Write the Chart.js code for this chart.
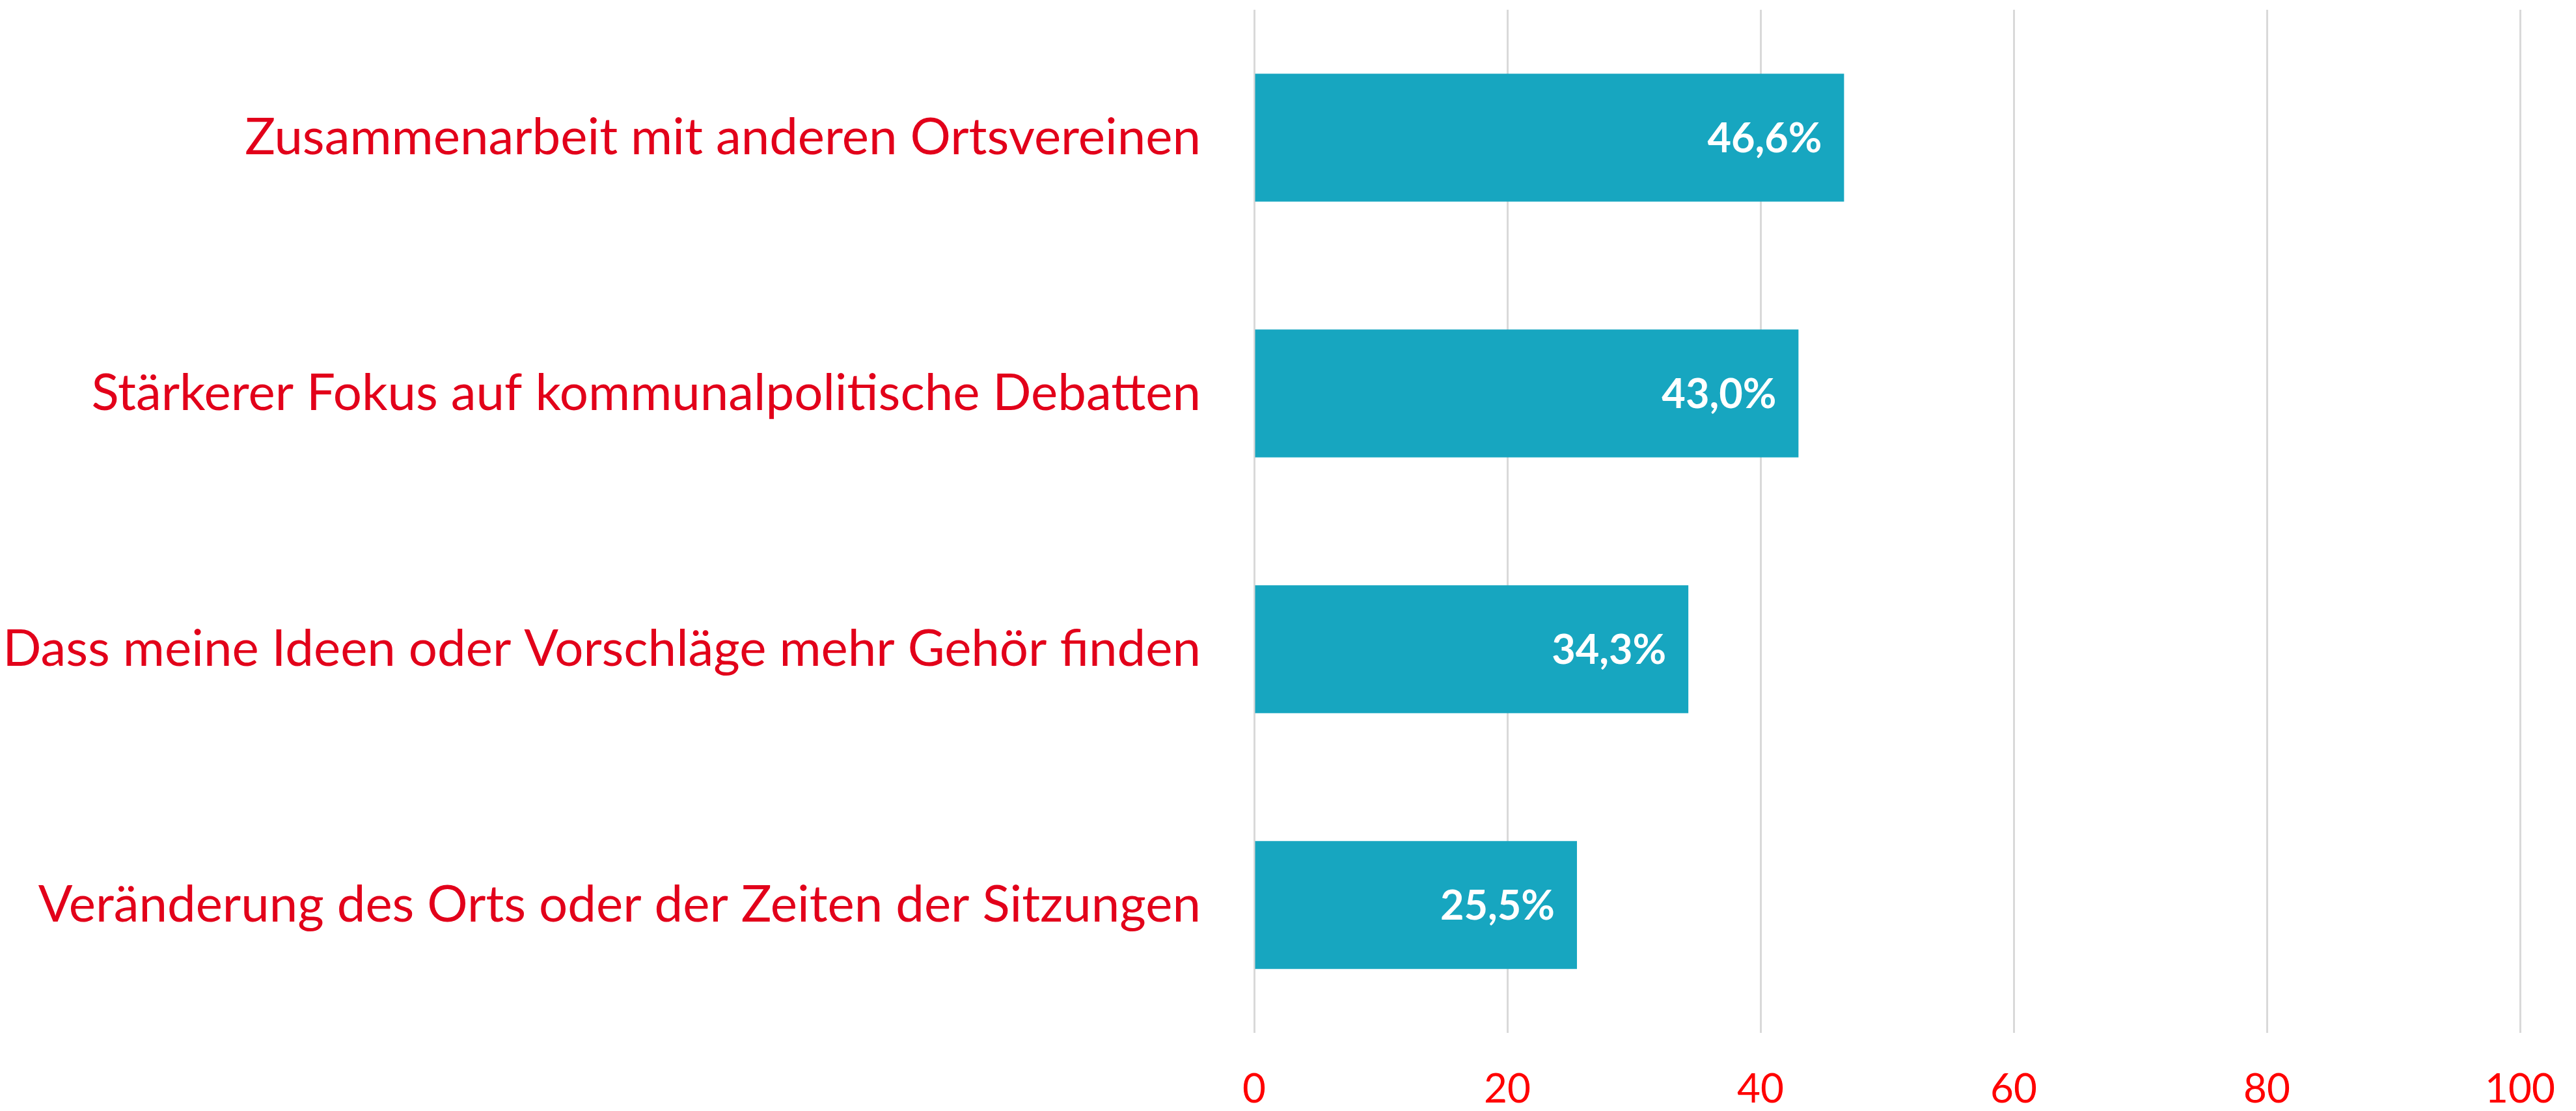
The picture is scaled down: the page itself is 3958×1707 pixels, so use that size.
<!DOCTYPE html>
<html>
<head>
<meta charset="utf-8">
<script src="https://cdn.jsdelivr.net/npm/chart.js@4/dist/chart.umd.min.js"></script>
<style>
  html, body { margin: 0; padding: 0; background: #ffffff; }
  #wrap { width: 3958px; height: 1707px; }
</style>
</head>
<body>
<div id="wrap"><canvas id="c" width="3958" height="1707"></canvas></div>
<script>
const categories = [
  "Zusammenarbeit mit anderen Ortsvereinen",
  "Stärkerer Fokus auf kommunalpolitische Debatten",
  "Dass meine Ideen oder Vorschläge mehr Gehör finden",
  "Veränderung des Orts oder der Zeiten der Sitzungen"
];
const values = [46.6, 43.0, 34.3, 25.5];
const xTicks = [0, 20, 40, 60, 80, 100];

const FONT = "Lato, 'Open Sans', sans-serif";

const valueLabels = {
  id: 'valueLabels',
  afterDatasetsDraw(chart) {
    const ctx = chart.ctx;
    const meta = chart.getDatasetMeta(0);
    ctx.save();
    ctx.fillStyle = '#ffffff';
    ctx.font = "bold 63px " + FONT;
    ctx.textAlign = 'right';
    ctx.textBaseline = 'middle';
    meta.data.forEach((bar, i) => {
      const txt = values[i].toFixed(1).replace('.', ',') + '%';
      ctx.fillText(txt, bar.x - 34, bar.y + 2);
    });
    ctx.restore();
  }
};

new Chart(document.getElementById('c'), {
  type: 'bar',
  data: {
    labels: categories,
    datasets: [{
      data: values,
      backgroundColor: '#17A6C0',
      borderWidth: 0,
      barPercentage: 0.5,
      categoryPercentage: 1.0
    }]
  },
  plugins: [valueLabels],
  options: {
    indexAxis: 'y',
    responsive: false,
    animation: false,
    devicePixelRatio: 1,
    layout: { padding: { top: 15, right: 86, bottom: 0, left: 0 } },
    plugins: { legend: { display: false }, tooltip: { enabled: false } },
    scales: {
      x: {
        min: 0, max: 100,
        afterBuildTicks(scale) { scale.ticks = xTicks.map(v => ({ value: v })); },
        afterFit(scale) { scale.height = 120; scale.paddingLeft = 0; scale.paddingRight = 0; },
        grid: { color: '#d9d9d9', lineWidth: 3, drawTicks: false },
        border: { display: false },
        ticks: { color: '#ff0000', font: { family: FONT, size: 62 }, padding: 50 }
      },
      y: {
        afterFit(scale) { scale.width = 1927; scale.paddingTop = 0; scale.paddingBottom = 0; },
        grid: { display: false, drawTicks: false },
        border: { display: false },
        ticks: { color: '#e2001a', font: { family: FONT, size: 78 }, padding: 82 }
      }
    }
  }
});
</script>
</body>
</html>
